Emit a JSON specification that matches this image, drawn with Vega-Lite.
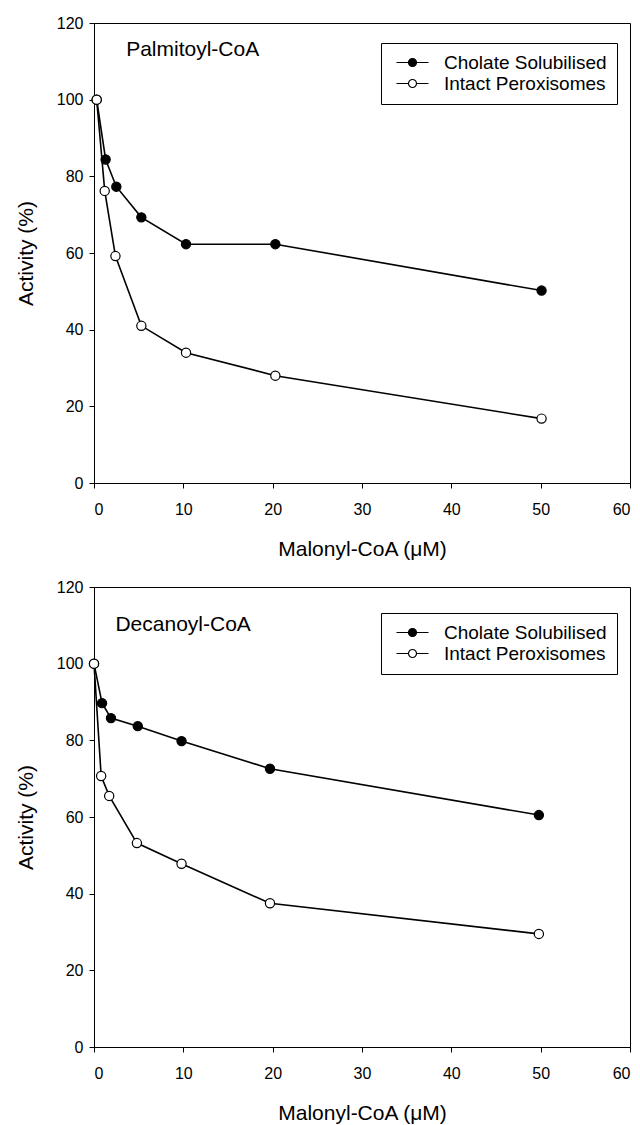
{
  "$schema": "https://vega.github.io/schema/vega-lite/v6.json",
  "padding": {"left": 14, "top": 14, "right": 0, "bottom": 0},
  "config": {
    "font": "Liberation Sans",
    "view": {"stroke": "black", "strokeWidth": 1},
    "axis": {"domainColor": "black", "tickColor": "black", "labelColor": "black", "titleColor": "black", "grid": false, "labelFontSize": 16, "titleFontSize": 21, "titleFontWeight": "normal", "tickSize": 5, "labelFont": "Liberation Sans", "titleFont": "Liberation Sans"},
    "axisX": {"labelPadding": 13, "titlePadding": 21},
    "axisY": {"labelPadding": 6, "titlePadding": 20},
    "legend": {"labelFontSize": 19, "labelColor": "black", "labelFont": "Liberation Sans", "labelLimit": 0},
    "concat": {"spacing": 18}
  },
  "data": {"values": [
    {"panel": "Palmitoyl-CoA", "label": "Palmitoyl-CoA"},
    {"panel": "Decanoyl-CoA", "label": "Decanoyl-CoA"},
    {"panel": "Palmitoyl-CoA", "series": "Cholate Solubilised", "malonyl": 0.3, "activity": 100},
    {"panel": "Palmitoyl-CoA", "series": "Cholate Solubilised", "malonyl": 1.3, "activity": 84.4},
    {"panel": "Palmitoyl-CoA", "series": "Cholate Solubilised", "malonyl": 2.5, "activity": 77.3},
    {"panel": "Palmitoyl-CoA", "series": "Cholate Solubilised", "malonyl": 5.3, "activity": 69.3},
    {"panel": "Palmitoyl-CoA", "series": "Cholate Solubilised", "malonyl": 10.3, "activity": 62.3},
    {"panel": "Palmitoyl-CoA", "series": "Cholate Solubilised", "malonyl": 20.3, "activity": 62.3},
    {"panel": "Palmitoyl-CoA", "series": "Cholate Solubilised", "malonyl": 50.1, "activity": 50.2},
    {"panel": "Palmitoyl-CoA", "series": "Intact Peroxisomes", "malonyl": 0.3, "activity": 100},
    {"panel": "Palmitoyl-CoA", "series": "Intact Peroxisomes", "malonyl": 1.2, "activity": 76.2},
    {"panel": "Palmitoyl-CoA", "series": "Intact Peroxisomes", "malonyl": 2.4, "activity": 59.2},
    {"panel": "Palmitoyl-CoA", "series": "Intact Peroxisomes", "malonyl": 5.3, "activity": 41},
    {"panel": "Palmitoyl-CoA", "series": "Intact Peroxisomes", "malonyl": 10.3, "activity": 34},
    {"panel": "Palmitoyl-CoA", "series": "Intact Peroxisomes", "malonyl": 20.3, "activity": 28},
    {"panel": "Palmitoyl-CoA", "series": "Intact Peroxisomes", "malonyl": 50.1, "activity": 16.8},
    {"panel": "Decanoyl-CoA", "series": "Cholate Solubilised", "malonyl": 0, "activity": 100},
    {"panel": "Decanoyl-CoA", "series": "Cholate Solubilised", "malonyl": 0.9, "activity": 89.7},
    {"panel": "Decanoyl-CoA", "series": "Cholate Solubilised", "malonyl": 1.9, "activity": 85.8},
    {"panel": "Decanoyl-CoA", "series": "Cholate Solubilised", "malonyl": 4.9, "activity": 83.7},
    {"panel": "Decanoyl-CoA", "series": "Cholate Solubilised", "malonyl": 9.8, "activity": 79.8},
    {"panel": "Decanoyl-CoA", "series": "Cholate Solubilised", "malonyl": 19.7, "activity": 72.6},
    {"panel": "Decanoyl-CoA", "series": "Cholate Solubilised", "malonyl": 49.8, "activity": 60.5},
    {"panel": "Decanoyl-CoA", "series": "Intact Peroxisomes", "malonyl": 0, "activity": 100},
    {"panel": "Decanoyl-CoA", "series": "Intact Peroxisomes", "malonyl": 0.8, "activity": 70.7},
    {"panel": "Decanoyl-CoA", "series": "Intact Peroxisomes", "malonyl": 1.7, "activity": 65.5},
    {"panel": "Decanoyl-CoA", "series": "Intact Peroxisomes", "malonyl": 4.8, "activity": 53.2},
    {"panel": "Decanoyl-CoA", "series": "Intact Peroxisomes", "malonyl": 9.8, "activity": 47.8},
    {"panel": "Decanoyl-CoA", "series": "Intact Peroxisomes", "malonyl": 19.7, "activity": 37.5},
    {"panel": "Decanoyl-CoA", "series": "Intact Peroxisomes", "malonyl": 49.8, "activity": 29.5}
  ]},
  "vconcat": [
    {
      "width": 536, "height": 460,
      "layer": [
        {"transform": [{"filter": "datum.panel === 'Palmitoyl-CoA' && datum.series"}],
         "mark": {"type": "line", "color": "black", "strokeWidth": 1.6},
         "encoding": {
           "x": {"field": "malonyl", "type": "quantitative", "scale": {"domain": [0, 60], "nice": false}, "axis": {"values": [0, 10, 20, 30, 40, 50, 60], "title": "Malonyl-CoA (\u03bcM)"}},
           "y": {"field": "activity", "type": "quantitative", "scale": {"domain": [0, 120], "nice": false}, "axis": {"values": [0, 20, 40, 60, 80, 100, 120], "title": "Activity (%)"}},
           "detail": {"field": "series"}}},
        {"transform": [{"filter": "datum.panel === 'Palmitoyl-CoA' && datum.series"}],
         "mark": {"type": "point", "shape": "circle", "filled": true, "size": 85, "stroke": "black", "strokeWidth": 1.2, "opacity": 1},
         "encoding": {
           "x": {"field": "malonyl", "type": "quantitative"},
           "y": {"field": "activity", "type": "quantitative"},
           "fill": {"field": "series", "type": "nominal",
           "scale": {"domain": ["Cholate Solubilised", "Intact Peroxisomes"], "range": ["black", "white"]},
           "legend": {"title": null, "orient": "none", "legendX": 287, "legendY": 20, "strokeColor": "black", "padding": 10, "rowPadding": 1,
             "symbolType": "M-4,0H-1M1,0H4M-1,0A1,1 0 1,1 1,0A1,1 0 1,1 -1,0Z", "symbolSize": 64, "symbolStrokeColor": "black", "symbolStrokeWidth": 1.2, "symbolOffset": 12, "labelOffset": 22}}}},
        {"transform": [{"filter": "datum.label === 'Palmitoyl-CoA'"}],
         "mark": {"type": "text", "align": "left", "baseline": "middle", "fontSize": 21, "font": "Liberation Sans", "color": "black"},
         "encoding": {"x": {"datum": 3.6, "type": "quantitative"}, "y": {"datum": 113, "type": "quantitative"}, "text": {"field": "label"}}}
      ]
    },
    {
      "width": 536, "height": 460,
      "layer": [
        {"transform": [{"filter": "datum.panel === 'Decanoyl-CoA' && datum.series"}],
         "mark": {"type": "line", "color": "black", "strokeWidth": 1.6},
         "encoding": {
           "x": {"field": "malonyl", "type": "quantitative", "scale": {"domain": [0, 60], "nice": false}, "axis": {"values": [0, 10, 20, 30, 40, 50, 60], "title": "Malonyl-CoA (\u03bcM)"}},
           "y": {"field": "activity", "type": "quantitative", "scale": {"domain": [0, 120], "nice": false}, "axis": {"values": [0, 20, 40, 60, 80, 100, 120], "title": "Activity (%)"}},
           "detail": {"field": "series"}}},
        {"transform": [{"filter": "datum.panel === 'Decanoyl-CoA' && datum.series"}],
         "mark": {"type": "point", "shape": "circle", "filled": true, "size": 85, "stroke": "black", "strokeWidth": 1.2, "opacity": 1},
         "encoding": {
           "x": {"field": "malonyl", "type": "quantitative"},
           "y": {"field": "activity", "type": "quantitative"},
           "fill": {"field": "series", "type": "nominal",
           "scale": {"domain": ["Cholate Solubilised", "Intact Peroxisomes"], "range": ["black", "white"]},
           "legend": {"title": null, "orient": "none", "legendX": 287, "legendY": 26, "strokeColor": "black", "padding": 10, "rowPadding": 1,
             "symbolType": "M-4,0H-1M1,0H4M-1,0A1,1 0 1,1 1,0A1,1 0 1,1 -1,0Z", "symbolSize": 64, "symbolStrokeColor": "black", "symbolStrokeWidth": 1.2, "symbolOffset": 12, "labelOffset": 22}}}},
        {"transform": [{"filter": "datum.label === 'Decanoyl-CoA'"}],
         "mark": {"type": "text", "align": "left", "baseline": "middle", "fontSize": 21, "font": "Liberation Sans", "color": "black"},
         "encoding": {"x": {"datum": 2.4, "type": "quantitative"}, "y": {"datum": 110, "type": "quantitative"}, "text": {"field": "label"}}}
      ]
    }
  ],
  "resolve": {"legend": {"fill": "independent"}, "scale": {"fill": "independent"}}
}
